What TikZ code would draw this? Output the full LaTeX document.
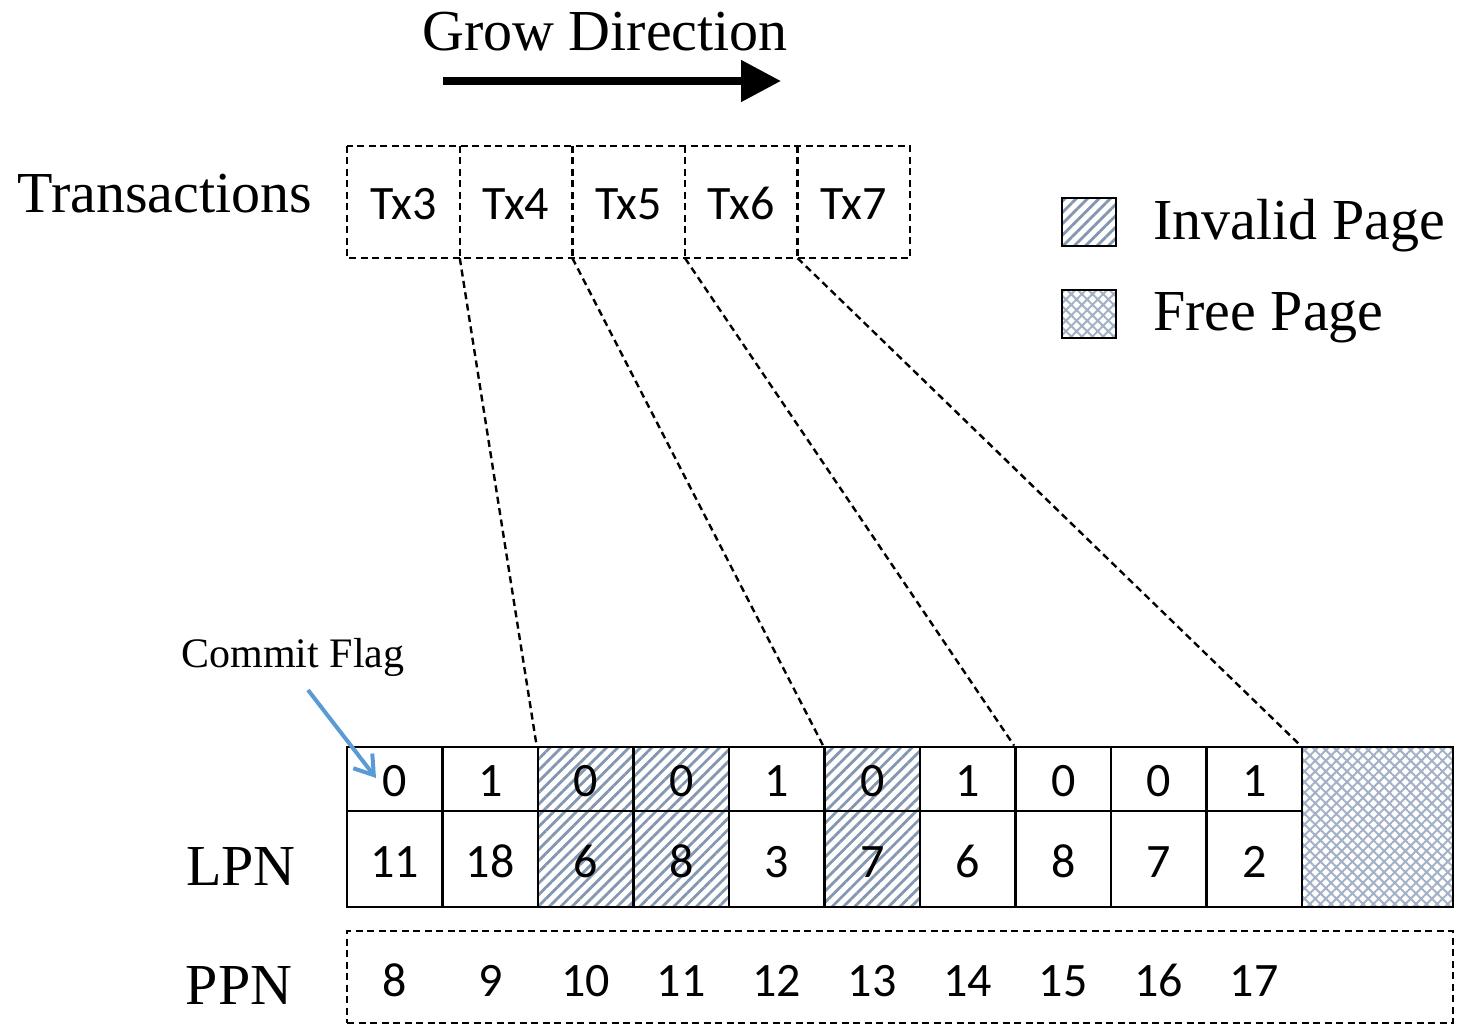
\documentclass[tikz,border=0pt]{standalone}
\usepackage{fontspec}
\setmainfont{Liberation Serif}
\newfontfamily\calibri{Carlito}
\usetikzlibrary{arrows.meta,patterns.meta}
\definecolor{hatchblue}{HTML}{8497B0}
\definecolor{flagblue}{HTML}{5B9BD5}
\tikzset{
  serifbig/.style={font=\fontsize{58}{62}\selectfont, inner sep=0pt},
  densedash/.style={dash pattern=on 7pt off 4.5pt},
  txbox/.style={minimum width=112.6pt, minimum height=112pt, inner sep=0pt},
  txlabel/.style={inner sep=0pt, anchor=base, font=\calibri\fontsize{48}{50}\selectfont},
  cell/.style={draw, line width=2.8pt, minimum width=95.5pt, inner sep=0pt},
  flagcell/.style={cell, minimum height=64pt},
  lpncell/.style={cell, minimum height=96pt},
  num/.style={inner sep=0pt, anchor=base, font=\calibri\fontsize{48}{50}\selectfont},
  invalid/.style={preaction={pattern={Lines[angle=45,distance=8pt,line width=2.8pt]},
    pattern color=hatchblue}},
  freepg/.style={preaction={pattern={Hatch[angle=45,distance=7.5pt,line width=2pt]},
    pattern color=hatchblue!75}},
  link/.style={densedash, line width=2.4pt},
}
\begin{document}
\begin{tikzpicture}[x=1pt,y=-1pt]
\useasboundingbox (0,0) rectangle (1457,1026);

% title and growth arrow
\node[serifbig] (grow) at (605,32) {Grow Direction};
\coordinate (ga) at (443,81);
\coordinate (gb) at (781,81);
\draw[line width=8pt, -{Triangle[length=40pt,width=40pt]}] (ga) -- (gb);

% transaction boxes: one dashed frame with dashed dividers
\node[serifbig] (trans) at (165,194) {Transactions};
\foreach \i [count=\k from 0] in {3,...,7} {
  \node[txbox] (tx\i) at ({403.3+112.6*\k},202) {};
  \node[txlabel] at ({403.3+112.6*\k},219) {Tx\i};
}
\draw[densedash, line width=2.4pt] (tx3.north west) rectangle (tx7.south east);
\foreach \i in {3,...,6}
  \draw[densedash, line width=2.4pt] (tx\i.north east) -- (tx\i.south east);

% legend
\node[draw, line width=2.5pt, minimum width=54pt, minimum height=48pt, inner sep=0pt,
  invalid] (leginv) at (1089,222) {};
\node[serifbig, anchor=west] (leginvtxt) at (1153,226) {Invalid Page};
\node[draw, line width=2.5pt, minimum width=54pt, minimum height=48pt, inner sep=0pt,
  freepg] (legfree) at (1089,314) {};
\node[serifbig, anchor=west] (legfreetxt) at (1153,318) {Free Page};

% page table: commit flags and LPNs
\foreach \f/\l/\s [count=\k from 0] in
  {0/11/, 1/18/, 0/6/invalid, 0/8/invalid, 1/3/, 0/7/invalid, 1/6/, 0/8/, 0/7/, 1/2/} {
  \node[flagcell, \s] (f\k) at ({394.75+95.5*\k},779) {};
  \node[num] at ({394.75+95.5*\k},796) {\f};
  \node[lpncell, \s] (l\k) at ({394.75+95.5*\k},859) {};
  \node[num] at ({394.75+95.5*\k},877) {\l};
}
\node[draw, line width=2.8pt, minimum width=151pt, minimum height=160pt, inner sep=0pt,
  freepg] (free) at (1377.5,827) {};

\node[serifbig] (lpn) at (241,866) {LPN};

% physical page numbers
\node[draw, densedash, line width=2.3pt, minimum width=1106pt, minimum height=92pt,
  inner sep=0pt] (ppnbox) at (900,977) {};
\node[serifbig] (ppn) at (239,985) {PPN};
\foreach \p [count=\k from 0] in {8,...,17}
  \node[num] (p\k) at ({394.75+95.5*\k},996) {\p};

% transactions mapped onto pages
\draw[link] (tx3.south east) -- (f2.north west);
\draw[link] (tx4.south east) -- (f5.north west);
\draw[link] (tx5.south east) -- (f7.north west);
\draw[link] (tx6.south east) -- (free.north west);

% commit flag callout
\node[inner sep=0pt, font=\fontsize{42}{46}\selectfont] (cf) at (293,657) {Commit Flag};
\coordinate (cfstart) at (308,690);
\coordinate (cfend) at (376,778);
\draw[flagblue, line width=4pt, -{Straight Barb[length=18pt,width=24pt,line width=4pt]}]
  (cfstart) -- (cfend);
\end{tikzpicture}
\end{document}
